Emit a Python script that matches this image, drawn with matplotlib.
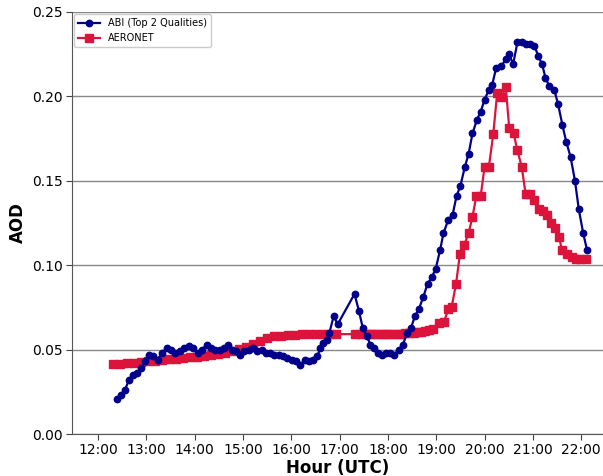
import numpy as np
import matplotlib
matplotlib.use("Agg")
import matplotlib.pyplot as plt
import matplotlib.ticker as plt_ticker

# ABI retrievals (top 2 qualities), time in decimal UTC hours
abi_hour = [12.40, 12.48, 12.56, 12.64, 12.72, 12.80, 12.90, 12.98, 13.06, 13.14,
            13.24, 13.33, 13.42, 13.51, 13.60, 13.69, 13.78, 13.88, 13.97, 14.07,
            14.15, 14.26, 14.34, 14.43, 14.53, 14.61, 14.69, 14.77, 14.86, 14.94,
            15.02, 15.12, 15.21, 15.30, 15.39, 15.47, 15.56, 15.65, 15.74, 15.82,
            15.92, 16.01, 16.09, 16.19, 16.28, 16.37, 16.45, 16.54, 16.60, 16.66,
            16.73, 16.79, 16.88, 16.96, 17.31, 17.40, 17.48, 17.56, 17.64, 17.71,
            17.79, 17.87, 17.96, 18.05, 18.13, 18.22, 18.31, 18.40, 18.48, 18.56,
            18.64, 18.73, 18.82, 18.91, 18.99, 19.08, 19.15, 19.25, 19.34, 19.42,
            19.50, 19.59, 19.67, 19.75, 19.84, 19.92, 20.00, 20.09, 20.16, 20.24,
            20.35, 20.44, 20.51, 20.59, 20.68, 20.77, 20.85, 20.94, 21.03, 21.11,
            21.19, 21.26, 21.34, 21.44, 21.52, 21.61, 21.69, 21.78, 21.87, 21.95,
            22.04, 22.12]
abi_aod = [0.021, 0.023, 0.026, 0.032, 0.035, 0.036, 0.039, 0.043, 0.047, 0.046,
           0.044, 0.048, 0.051, 0.050, 0.048, 0.049, 0.051, 0.052, 0.051, 0.048,
           0.050, 0.053, 0.051, 0.050, 0.050, 0.051, 0.053, 0.050, 0.049, 0.047,
           0.049, 0.050, 0.051, 0.049, 0.050, 0.048, 0.048, 0.047, 0.047, 0.046,
           0.045, 0.044, 0.043, 0.041, 0.044, 0.043, 0.044, 0.046, 0.051, 0.054,
           0.056, 0.060, 0.070, 0.065, 0.083, 0.073, 0.063, 0.058, 0.053, 0.051,
           0.048, 0.047, 0.048, 0.048, 0.047, 0.050, 0.053, 0.060, 0.063, 0.070,
           0.074, 0.081, 0.089, 0.093, 0.098, 0.109, 0.119, 0.127, 0.130, 0.141,
           0.147, 0.158, 0.166, 0.178, 0.186, 0.191, 0.198, 0.204, 0.207, 0.217,
           0.218, 0.222, 0.225, 0.219, 0.232, 0.232, 0.231, 0.231, 0.230, 0.224,
           0.219, 0.211, 0.206, 0.204, 0.1955, 0.183, 0.173, 0.164, 0.150, 0.133,
           0.119, 0.109]

# AERONET observations
aer_hour = [12.32, 12.46, 12.61, 12.75, 12.90, 13.04, 13.19, 13.33, 13.47, 13.62,
            13.76, 13.91, 14.05, 14.20, 14.34, 14.48, 14.63, 14.77, 14.92, 15.06,
            15.21, 15.35, 15.49, 15.64, 15.78, 15.93, 16.07, 16.22, 16.36, 16.51,
            16.65, 16.79, 16.93, 17.31, 17.45, 17.54, 17.62, 17.70, 17.78, 17.87,
            17.95, 18.03, 18.11, 18.20, 18.28, 18.36, 18.44, 18.53, 18.61, 18.69,
            18.77, 18.86, 18.94, 19.06, 19.16, 19.25, 19.32, 19.41, 19.49, 19.58,
            19.67, 19.75, 19.83, 19.92, 20.00, 20.09, 20.18, 20.26, 20.35, 20.44,
            20.51, 20.60, 20.68, 20.77, 20.85, 20.94, 21.03, 21.12, 21.21, 21.29,
            21.37, 21.45, 21.54, 21.60, 21.70, 21.80, 21.89, 21.98, 22.09]
aer_aod = [0.0413, 0.0416, 0.0419, 0.0422, 0.0426, 0.0430, 0.0434, 0.0438, 0.0442, 0.0446,
           0.0450, 0.0454, 0.0458, 0.0462, 0.0467, 0.0473, 0.0480, 0.0490, 0.0502, 0.0516,
           0.0533, 0.0552, 0.0568, 0.0578, 0.0583, 0.0586, 0.0588, 0.0590, 0.0591, 0.0592,
           0.0593, 0.0594, 0.0592, 0.0592, 0.0590, 0.0590, 0.0590, 0.0590, 0.0591, 0.0591,
           0.0592, 0.0592, 0.0593, 0.0594, 0.0595, 0.0597, 0.0599, 0.0601, 0.0604, 0.0607,
           0.0611, 0.0616, 0.0623, 0.0660, 0.0665, 0.0740, 0.0755, 0.0890, 0.1066, 0.1120,
           0.1190, 0.1287, 0.1410, 0.1410, 0.1584, 0.1584, 0.1777, 0.2018, 0.1995, 0.2054,
           0.1810, 0.1780, 0.1680, 0.1580, 0.1420, 0.1420, 0.1386, 0.1330, 0.1320, 0.1300,
           0.1250, 0.1220, 0.1170, 0.1090, 0.1066, 0.1047, 0.1037, 0.1037, 0.1037]

hour_ticks = list(range(12, 23))

fig = plt.figure(figsize=(6.03, 4.76), dpi=100)
ax = fig.add_axes([0.119, 0.088, 0.881, 0.887])

ax.plot(abi_hour, abi_aod, color='#00008b', marker='o', markersize=4.6,
        linewidth=1.6, label='ABI (Top 2 Qualities)', zorder=3)
ax.plot(aer_hour, aer_aod, color='#dc143c', marker='s', markersize=5.4,
        linewidth=1.6, label='AERONET', zorder=2)

ax.set_xlim(11.46, 22.45)
ax.set_ylim(0, 0.25)
ax.set_xticks(hour_ticks)
ax.xaxis.set_major_formatter(plt_ticker.FuncFormatter(lambda v, p: f'{int(round(v)):02d}:00'))
ax.yaxis.set_major_locator(plt_ticker.MultipleLocator(0.05))
ax.yaxis.set_major_formatter(plt_ticker.FormatStrFormatter('%.2f'))
ax.tick_params(labelsize=10, color='#444444', length=4, pad=2.5)

ax.grid(axis='y', color='#888888', linewidth=1.0)
ax.set_axisbelow(True)
for side in ['top', 'right']:
    ax.spines[side].set_visible(False)
ax.spines['left'].set_color('#555555')
ax.spines['bottom'].set_color('#555555')

ax.set_xlabel('Hour (UTC)', fontsize=12, fontweight='bold', labelpad=1.5)
ax.set_ylabel('AOD', fontsize=12, fontweight='bold')

ax.legend(loc='upper left', fontsize=7, framealpha=1, edgecolor='#cccccc',
          borderaxespad=0.25, handlelength=2.3)

fig.savefig('out.png', dpi=100)
